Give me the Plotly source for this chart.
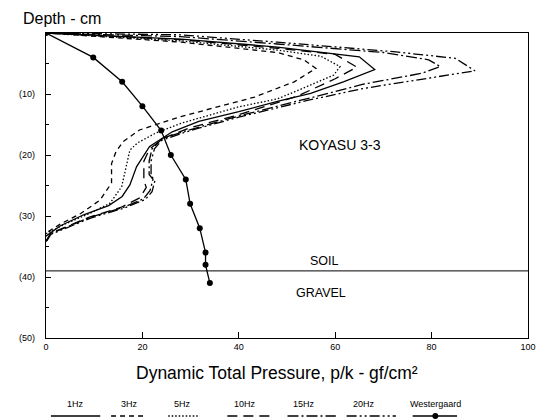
import plotly.graph_objects as go

# Dynamic total pressure (gf/cm^2) against depth (cm), KOYASU 3-3
p_1hz = [0, 28, 48, 59, 65, 68.2, 61.7, 54.9, 48, 40, 31.7, 26.2, 21.5, 18.8, 17.4, 15.8, 13, 7.8, 3, 0]
d_1hz = [0, 1.0, 2.3, 3.3, 3.9, 6.0, 8.0, 9.9, 11.2, 12.9, 14.5, 16.2, 18.6, 21.9, 24.9, 26.8, 28.3, 29.8, 31.6, 33.3]

p_3hz = [0, 28, 48, 53.5, 56, 51.5, 43.3, 36, 28, 19.4, 16, 14.5, 13.6, 13.6, 11.2, 7.2, 3, 0]
d_3hz = [0, 1.5, 3.2, 4.4, 5.8, 8.0, 10.5, 12.0, 13.7, 15.9, 17.8, 19.5, 21.4, 24.6, 27.4, 29.6, 31.3, 32.8]

p_5hz = [0, 28, 48, 57, 61, 59.7, 52, 48, 40, 28, 22.8, 19, 17.4, 16.7, 15.7, 13.3, 9, 4, 0]
d_5hz = [0, 1.3, 2.8, 3.8, 5.5, 6.9, 9.5, 10.8, 12.1, 14.8, 16.4, 18.0, 19.2, 21.9, 25.2, 27.9, 29.6, 31.3, 32.9]

p_10hz = [0, 28, 48, 60, 64.5, 60, 52, 40, 30, 24.5, 21.5, 20.3, 20.3, 20.8, 19.5, 15.5, 9, 1, 0]
d_10hz = [0, 1.1, 2.5, 3.5, 5.6, 7.5, 10.4, 13.4, 15.5, 17.2, 19.0, 21.0, 24.2, 25.3, 27.0, 28.6, 30.2, 32.8, 34.1]

p_15hz = [0, 28, 48, 70, 79.4, 81.8, 78, 65.8, 54, 40, 28.3, 24, 22, 21.4, 21.4, 22.2, 21.6, 20.2, 16, 9.2, 1, 0]
d_15hz = [0, 0.6, 1.8, 3.2, 4.4, 5.5, 6.6, 8.4, 10.8, 13.6, 16.2, 17.4, 19.0, 21.0, 23.2, 24.0, 25.8, 27.2, 28.6, 30.2, 32.9, 34.2]

p_20hz = [0, 28, 48, 72.6, 84.9, 89, 79.4, 65.8, 54, 40, 31.7, 28.3, 24, 22.5, 21.8, 21.8, 22.6, 22, 20.6, 16.2, 9.4, 1, 0]
d_20hz = [0, 0.3, 1.5, 3.1, 4.15, 6.2, 7.4, 9.1, 11.1, 13.8, 15.6, 16.4, 17.6, 19.0, 21.0, 23.4, 24.2, 26.0, 27.3, 28.7, 30.3, 33.0, 34.3]

p_west = [0, 9.8, 15.8, 20.0, 23.9, 25.9, 29.0, 29.9, 31.9, 33.1, 33.1, 34.0]
d_west = [0, 4, 8, 12, 16, 20, 24, 28, 32, 36, 38, 41]

soil_gravel_depth = 39.0

y_ticks = [0, 10, 20, 30, 40, 50]
y_tick_text = ["", "(10)", "(20)", "(30)", "(40)", "(50)"]
x_ticks = [0, 20, 40, 60, 80, 100]

series = [
    ("1Hz", p_1hz, d_1hz, "solid"),
    ("3Hz", p_3hz, d_3hz, "5px,4px"),
    ("5Hz", p_5hz, d_5hz, "1.5px,2px"),
    ("10Hz", p_10hz, d_10hz, "10px,6px"),
    ("15Hz", p_15hz, d_15hz, "11px,3px,2px,3px"),
    ("20Hz", p_20hz, d_20hz, "10px,3px,2px,3px,2px,3px"),
]

FONT = "Liberation Sans, Arial, sans-serif"
INK = "black"

fig = go.Figure()
for name, px_, dy, dash in series:
    fig.add_trace(go.Scatter(x=px_, y=dy, mode="lines", name=name,
                             line=dict(color=INK, width=1.3, dash=dash),
                             showlegend=False))
fig.add_trace(go.Scatter(x=p_west, y=d_west, mode="lines+markers", name="Westergaard",
                         line=dict(color=INK, width=1.3),
                         marker=dict(color=INK, size=6),
                         showlegend=False))

# soil / gravel boundary
fig.add_shape(type="line", xref="x", yref="y", x0=0, x1=100,
              y0=soil_gravel_depth, y1=soil_gravel_depth,
              line=dict(color=INK, width=1))

fig.add_annotation(x=61, y=18.4, xref="x", yref="y", text="KOYASU 3-3",
                   showarrow=False, font=dict(family=FONT, size=14, color=INK))
fig.add_annotation(x=57.7, y=37.4, xref="x", yref="y", text="SOIL",
                   showarrow=False, font=dict(family=FONT, size=12.5, color=INK))
fig.add_annotation(x=57, y=42.6, xref="x", yref="y", text="GRAVEL",
                   showarrow=False, font=dict(family=FONT, size=12.5, color=INK))

# plot-area geometry in pixels, used to place the hand-built legend
L, R, T, B = 46, 535, 33, 338
def px_x(p):
    return (p - L) / (R - L)
def px_y(p):
    return (B - p) / (B - T)

fig.add_annotation(x=px_x(21), y=px_y(19), xref="paper", yref="paper",
                   text="Depth - cm", showarrow=False, xanchor="left",
                   yanchor="middle", font=dict(family=FONT, size=16, color=INK))
fig.add_annotation(x=px_x(280), y=px_y(373), xref="paper", yref="paper",
                   text="Dynamic Total Pressure, p/k - gf/cm²", showarrow=False,
                   xanchor="center", yanchor="middle",
                   font=dict(family=FONT, size=17.5, color=INK))

# legend: label above a line sample
legend_slots = [
    ("1Hz", 76, 51, 101, "solid"),
    ("3Hz", 131, 112, 147, "5px,4px"),
    ("5Hz", 184, 170, 202, "1.5px,2px"),
    ("10Hz", 248, 230, 275, "10px,6px"),
    ("15Hz", 308, 291, 340, "11px,3px,2px,3px"),
    ("20Hz", 369, 351, 401, "10px,3px,2px,3px,2px,3px"),
    ("Westergaard", 441, 418, 463, "solid"),
]
for label, cx, x0, x1, dash in legend_slots:
    fig.add_annotation(x=px_x(cx), y=px_y(404), xref="paper", yref="paper",
                       text=label, showarrow=False, xanchor="center", yanchor="middle",
                       font=dict(family=FONT, size=9, color=INK))
    fig.add_shape(type="line", xref="paper", yref="paper",
                  x0=px_x(x0), x1=px_x(x1), y0=px_y(416), y1=px_y(416),
                  line=dict(color=INK, width=1.3, dash=dash))
fig.add_shape(type="circle", xref="paper", yref="paper",
              x0=px_x(438), x1=px_x(444), y0=px_y(413), y1=px_y(419),
              fillcolor=INK, line=dict(color=INK, width=0))

fig.update_xaxes(range=[0, 100], tickvals=x_ticks, ticks="inside", ticklen=6,
                 tickwidth=1, tickcolor=INK, showline=True, linecolor=INK,
                 linewidth=1.2, mirror=True, showgrid=False, zeroline=False,
                 tickfont=dict(family=FONT, size=9, color=INK))
fig.update_yaxes(range=[50, 0], tickvals=y_ticks, ticktext=y_tick_text,
                 ticks="inside", ticklen=5, tickwidth=1, tickcolor=INK,
                 minor=dict(dtick=5, ticks="inside", ticklen=3, tickcolor=INK),
                 showline=True, linecolor=INK, linewidth=1.2, mirror=True,
                 showgrid=False, zeroline=False, ticklabelstandoff=8,
                 tickfont=dict(family=FONT, size=9, color=INK))

fig.update_layout(width=548, height=420,
                  margin=dict(l=L, r=548 - R, t=T, b=420 - B),
                  paper_bgcolor="white", plot_bgcolor="white",
                  showlegend=False)

fig.write_html("out.html")
